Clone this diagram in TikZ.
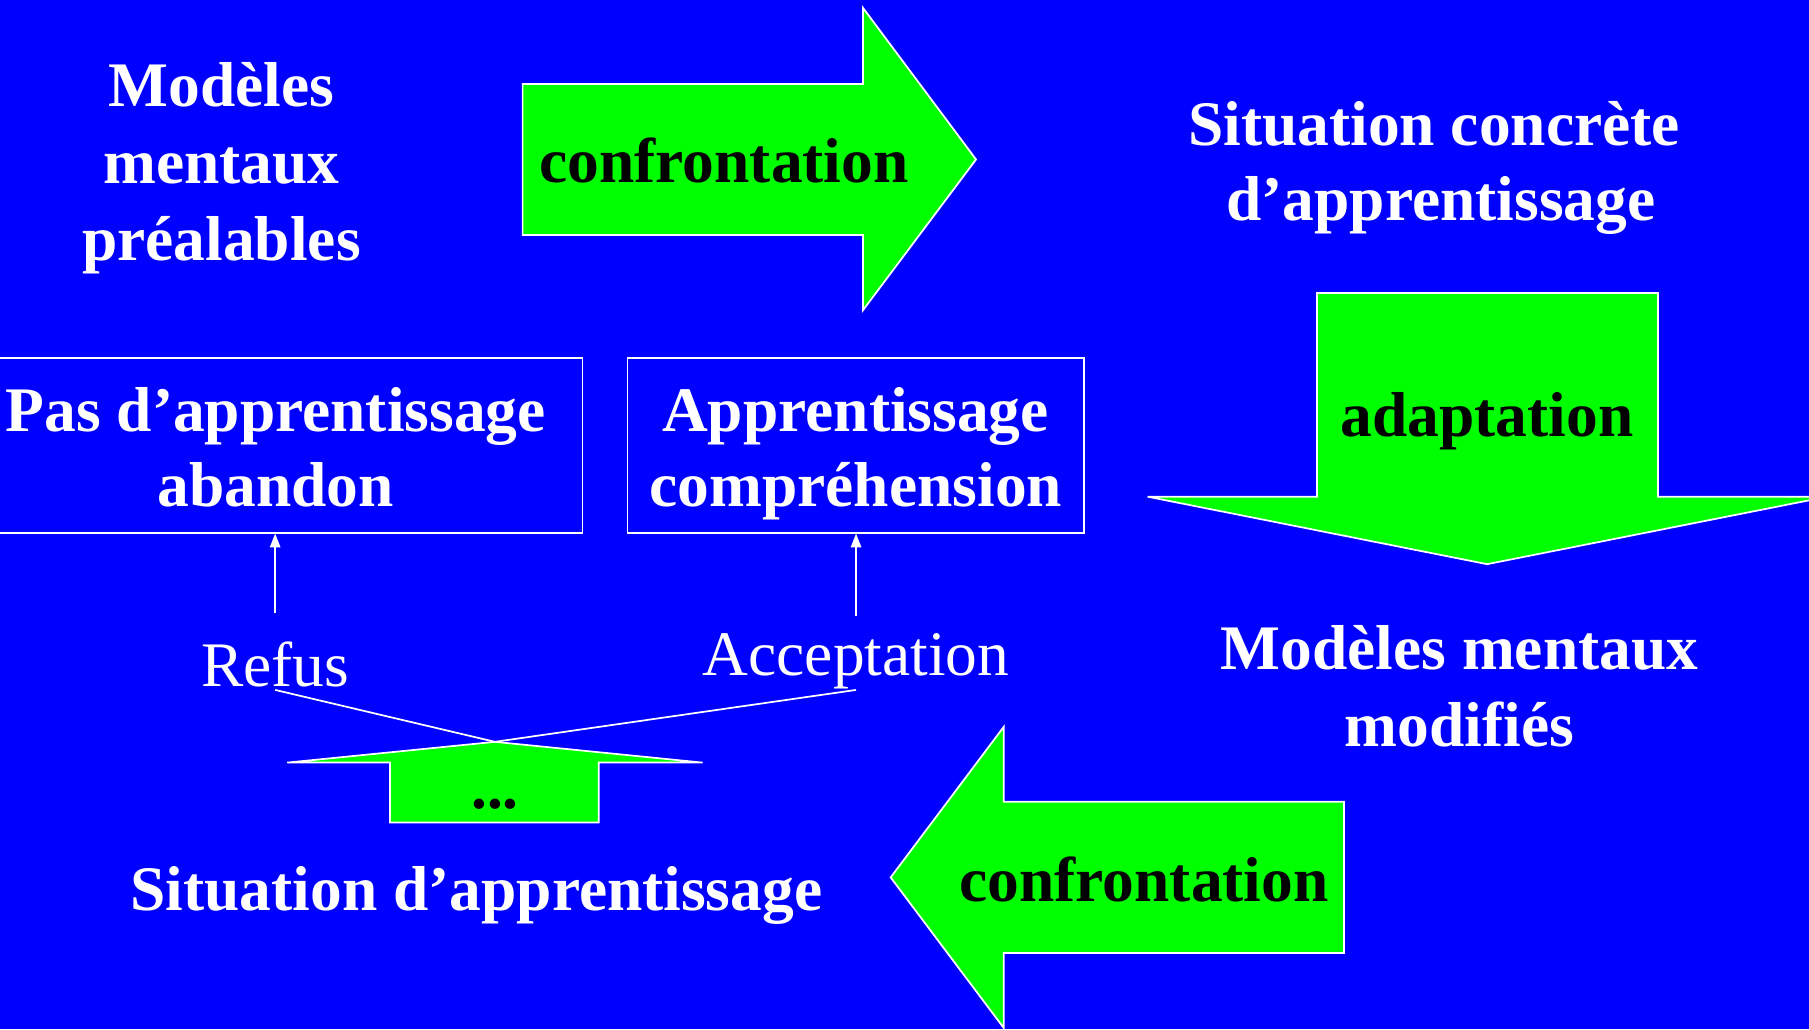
\documentclass[tikz,border=0pt]{standalone}
\usepackage{fontspec}
\setmainfont{Liberation Serif}
\usetikzlibrary{arrows.meta}
\definecolor{bgblue}{RGB}{0,0,255}
\definecolor{arrgreen}{RGB}{0,255,0}
\tikzset{
  lbl/.style={inner sep=0pt, anchor=base, text=white, font=\fontsize{55}{66}\selectfont\bfseries},
  lblreg/.style={inner sep=0pt, anchor=base, text=white, font=\fontsize{55}{66}\selectfont},
  inlbl/.style={lbl, text=black},
  bigarrow/.style={fill=arrgreen, draw=white, line width=1.5pt, line join=miter},
  boxframe/.style={draw=white, line width=1.5pt, inner sep=0pt, rectangle},
  wline/.style={draw=white, line width=1.5pt},
  uparrow/.style={wline, -{Triangle[width=9pt,length=12pt]}},
}
\begin{document}
\begin{tikzpicture}[x=1pt,y=-1pt]
\useasboundingbox (0,0) rectangle (1568,892);
\fill[bgblue] (0,0) rectangle (1568,892);
\begin{scope}
\clip (0,0) rectangle (1568,892);

% top-left text
\node[lbl] (m1) at (192,92.5) {Modèles};
\node[lbl] (m2) at (192,159) {mentaux};
\node[lbl] (m3) at (192,225.4) {préalables};

% top arrow (right)
\path[bigarrow] (453,72.8) -- (748,72.8) -- (748,6.8) -- (846,138.2) -- (748,268.9) -- (748,203.6) -- (453,203.6) -- cycle;
\node[inlbl] (conf1) at (627.6,158.3) {confrontation};

% top-right text
\node[lbl] (s1) at (1243,125.7) {Situation concrète};
\node[lbl] (s2) at (1249,190.7) {d’apprentissage};

% down arrow
\path[bigarrow] (1141.6,254) -- (1437,254) -- (1437,430.5) -- (1584,430.5) -- (1289,489) -- (994.7,430.5) -- (1141.6,430.5) -- cycle;
\node[inlbl] (adapt) at (1289,378.5) {adaptation};

% modified models
\node[lbl] (mm1) at (1265,580.2) {Modèles mentaux};
\node[lbl] (mm2) at (1265,647.2) {modifiés};

% bottom arrow (left)
\path[bigarrow] (1165,695) -- (1165,826) -- (870,826) -- (870,891) -- (772,760.5) -- (870,630) -- (870,695) -- cycle;
\node[inlbl] (conf2) at (991.6,781) {confrontation};

% boxes
\node[boxframe, minimum width=507pt, minimum height=151.1pt] (box1) at (251.5,386.15) {};
\node[lbl] (b1a) at (239,373.6) {Pas d’apprentissage};
\node[lbl] (b1b) at (239,439.2) {abandon};
\node[boxframe, minimum width=395.8pt, minimum height=151.1pt] (box2) at (741.7,386.15) {};
\node[lbl] (b2a) at (741.5,373.6) {Apprentissage};
\node[lbl] (b2b) at (741.8,439.2) {compréhension};

% refus / acceptation
\node[lblreg] (refus) at (238.5,594.6) {Refus};
\node[lblreg] (accept) at (742,585.7) {Acceptation};

\draw[uparrow] ([yshift=24pt]refus.north) -- (refus.north |- box1.south);
\draw[uparrow] ([yshift=15.5pt]accept.north) -- (accept.north |- box2.south);

% small up arrow
\path[bigarrow] (429,643) -- (609,661) -- (519,661) -- (519,713) -- (338,713) -- (338,661) -- (249,661) -- cycle;
\coordinate (tip) at (429,643);
\node[inlbl] (dots) at (429,701) {...};
\draw[wline] ([yshift=-3.4pt]refus.base) -- (tip);
\draw[wline] ([yshift=-12.3pt]accept.base) -- (tip);

% bottom text
\node[lbl] (sit) at (413,788.8) {Situation d’apprentissage};
\end{scope}
\end{tikzpicture}
\end{document}
